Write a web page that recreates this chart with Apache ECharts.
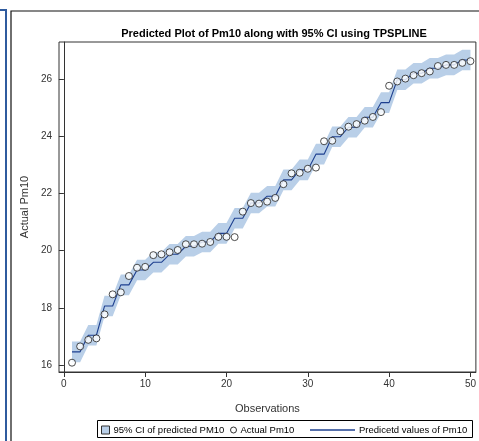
<!DOCTYPE html>
<html>
<head>
<meta charset="utf-8">
<script src="https://cdn.jsdelivr.net/npm/echarts@6/dist/echarts.min.js"></script>
<style>
  html, body { margin: 0; padding: 0; background: #fff; }
  #main { width: 479px; height: 441px; }
</style>
</head>
<body>
<div id="main"></div>
<script>
// observations 1..50
var obs = [];
for (var i = 1; i <= 50; i++) obs.push(i);

// actual Pm10 (circles)
var actual = [16.08, 16.65, 16.88, 16.93, 17.77, 18.47, 18.54, 19.11, 19.40, 19.43,
  19.84, 19.87, 19.94, 20.02, 20.22, 20.22, 20.24, 20.30, 20.48, 20.48,
  20.47, 21.36, 21.66, 21.64, 21.71, 21.84, 22.32, 22.70, 22.72, 22.86,
  22.90, 23.82, 23.84, 24.17, 24.33, 24.42, 24.54, 24.67, 24.84, 25.76,
  25.91, 26.01, 26.13, 26.20, 26.26, 26.45, 26.49, 26.49, 26.56, 26.62];

// predicted values (line)
var predicted = [16.46, 16.46, 17.04, 17.04, 18.06, 18.06, 18.80, 18.80, 19.32, 19.32,
  19.59, 19.59, 19.87, 19.87, 20.15, 20.15, 20.30, 20.30, 20.60, 20.60,
  21.13, 21.13, 21.66, 21.66, 21.90, 21.90, 22.47, 22.47, 22.82, 22.82,
  23.37, 23.37, 23.98, 23.98, 24.31, 24.31, 24.66, 24.66, 25.17, 25.17,
  25.97, 25.97, 26.20, 26.20, 26.37, 26.37, 26.49, 26.49, 26.66, 26.66];

// 95% CI limits
var lower = [16.10, 16.10, 16.68, 16.68, 17.70, 17.70, 18.44, 18.44, 18.96, 18.96,
  19.23, 19.23, 19.51, 19.51, 19.79, 19.79, 19.94, 19.94, 20.24, 20.24,
  20.77, 20.77, 21.30, 21.30, 21.54, 21.54, 22.11, 22.11, 22.46, 22.46,
  23.01, 23.01, 23.62, 23.62, 23.95, 23.95, 24.30, 24.30, 24.81, 24.81,
  25.61, 25.61, 25.84, 25.84, 26.01, 26.01, 26.13, 26.13, 26.30, 26.30];
var upper = [16.82, 16.82, 17.40, 17.40, 18.42, 18.42, 19.16, 19.16, 19.68, 19.68,
  19.95, 19.95, 20.23, 20.23, 20.51, 20.51, 20.66, 20.66, 20.96, 20.96,
  21.49, 21.49, 22.02, 22.02, 22.26, 22.26, 22.83, 22.83, 23.18, 23.18,
  23.73, 23.73, 24.34, 24.34, 24.67, 24.67, 25.02, 25.02, 25.53, 25.53,
  26.33, 26.33, 26.56, 26.56, 26.73, 26.73, 26.85, 26.85, 27.02, 27.02];

var xTicks = [0, 10, 20, 30, 40, 50];
var yTicks = [16, 18, 20, 22, 24, 26];

var bandColor = '#b9cfe8';
var lineColor = '#1d3f8f';
var font = 'Liberation Sans, Arial, sans-serif';

var pairs = function (arr) {
  return obs.map(function (x, k) { return [x, arr[k]]; });
};

var chart = echarts.init(document.getElementById('main'), null, { renderer: 'canvas' });

// CI band drawn as one polygon: upper edge forward, lower edge back
function renderBand(params, api) {
  var pts = [];
  for (var k = 0; k < obs.length; k++) pts.push(api.coord([obs[k], upper[k]]));
  for (var k = obs.length - 1; k >= 0; k--) pts.push(api.coord([obs[k], lower[k]]));
  return {
    type: 'polygon',
    shape: { points: pts },
    style: { fill: bandColor, stroke: null }
  };
}

var legendText = { fontFamily: font, fontSize: 9.5, color: '#000', padding: [0, 0, 0, -1] };

var option = {
  animation: false,
  backgroundColor: '#fff',
  title: {
    text: 'Predicted Plot of Pm10 along with 95% CI using TPSPLINE',
    left: 269,
    textAlign: 'center',
    top: 23,
    textStyle: { fontFamily: font, fontSize: 11, fontWeight: 'bold', color: '#000' }
  },
  grid: {
    left: 59, top: 42, right: -3, bottom: 69,
    show: true, borderColor: '#333', borderWidth: 1
  },
  xAxis: {
    type: 'value',
    min: -0.6, max: 50.67,
    name: 'Observations',
    nameLocation: 'middle',
    nameGap: 31,
    nameTextStyle: { fontFamily: font, fontSize: 11, color: '#333' },
    splitLine: { show: false },
    axisLine: { lineStyle: { color: '#333' } },
    axisTick: { length: 5, customValues: xTicks, lineStyle: { color: '#333' } },
    axisLabel: { customValues: xTicks, fontFamily: font, fontSize: 10, color: '#333', margin: 7 }
  },
  yAxis: {
    type: 'value',
    min: 15.755, max: 27.29,
    name: 'Actual Pm10',
    nameLocation: 'middle',
    nameGap: 29,
    nameRotate: 90,
    nameTextStyle: { fontFamily: font, fontSize: 11, color: '#333' },
    splitLine: { show: false },
    axisLine: { show: true, lineStyle: { color: '#333' } },
    axisTick: { show: true, length: 5, customValues: yTicks, lineStyle: { color: '#333' } },
    axisLabel: { customValues: yTicks, fontFamily: font, fontSize: 10, color: '#333', margin: 7 }
  },
  legend: [
    {
      left: 101, top: 425, itemWidth: 8, itemHeight: 8, itemGap: 0, padding: 0,
      textStyle: legendText,
      data: [{ name: '95% CI of predicted PM10', icon: 'rect',
        itemStyle: { color: bandColor, borderColor: '#333', borderWidth: 1 } }]
    },
    {
      left: 230, top: 425, itemWidth: 6, itemHeight: 6, itemGap: 0, padding: 0,
      textStyle: legendText,
      data: [{ name: 'Actual Pm10', icon: 'circle',
        itemStyle: { color: '#fff', borderColor: '#000', borderWidth: 1 } }]
    },
    {
      left: 310, top: 425, itemWidth: 45, itemHeight: 1.3, itemGap: 0, padding: 0,
      textStyle: legendText,
      data: [{ name: 'Predicetd values of Pm10', icon: 'rect',
        itemStyle: { color: lineColor, borderWidth: 0 } }]
    }
  ],
  graphic: [
    { type: 'polyline', shape: { points: [[0, 10], [6, 10], [6, 441]] },
      style: { stroke: '#2f5b9e', lineWidth: 2, fill: null } },
    { type: 'polyline', shape: { points: [[11, 441], [11, 11], [479, 11]] },
      style: { stroke: '#111', lineWidth: 1.2, fill: null } },
    { type: 'rect', shape: { x: 97.5, y: 420.5, width: 375, height: 17 },
      style: { stroke: '#000', lineWidth: 1, fill: null }, z: 100 }
  ],
  series: [
    {
      name: '95% CI of predicted PM10',
      type: 'custom',
      renderItem: renderBand,
      data: [0],
      itemStyle: { color: bandColor },
      silent: true,
      z: 1
    },
    {
      name: 'Predicetd values of Pm10',
      type: 'line',
      data: pairs(predicted),
      showSymbol: false,
      itemStyle: { color: lineColor },
      lineStyle: { color: lineColor, width: 1.1 },
      z: 3
    },
    {
      name: 'Actual Pm10',
      type: 'scatter',
      data: pairs(actual),
      symbol: 'circle',
      symbolSize: 7,
      itemStyle: { color: '#fff', borderColor: '#222', borderWidth: 1 },
      z: 4
    }
  ]
};

chart.setOption(option);
</script>
</body>
</html>
